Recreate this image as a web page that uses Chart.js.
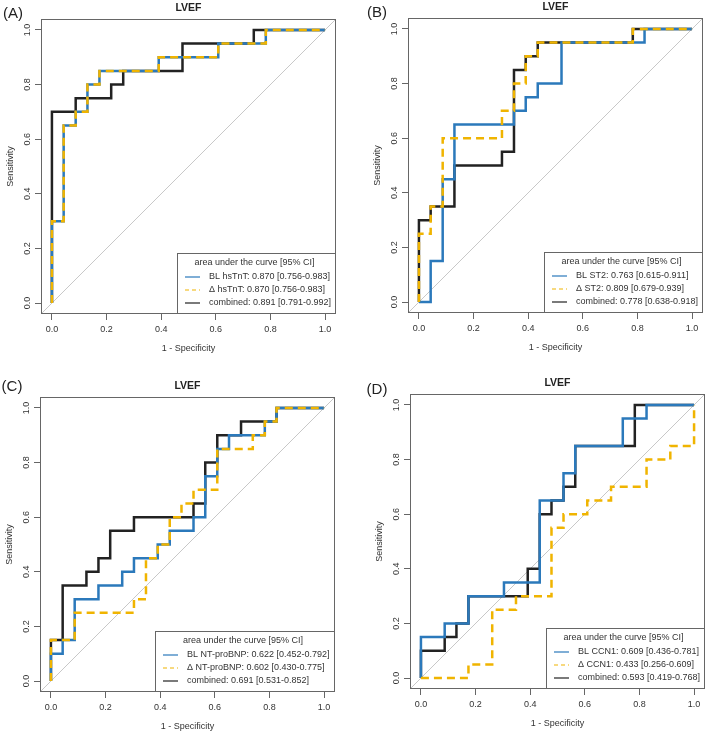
<!DOCTYPE html>
<html>
<head>
<meta charset="utf-8">
<script src="https://cdn.jsdelivr.net/npm/chart.js@4.4.0/dist/chart.umd.min.js"></script>
<style>
  html, body { margin: 0; padding: 0; width: 709px; height: 732px; overflow: hidden; background: #fff; }
  body { position: relative; }
  .panel { position: absolute; width: 370px; height: 366px; }
</style>
</head>
<body>
<div class="panel" id="pA"><canvas id="cA" width="370" height="366"></canvas></div>
<div class="panel" id="pB"><canvas id="cB" width="370" height="366"></canvas></div>
<div class="panel" id="pC"><canvas id="cC" width="370" height="366"></canvas></div>
<div class="panel" id="pD"><canvas id="cD" width="370" height="366"></canvas></div>

<script>
// ---- data (1 - specificity, sensitivity) ----
const tickValues = [0, 0.2, 0.4, 0.6, 0.8, 1.0];
const tickLabels = ['0.0', '0.2', '0.4', '0.6', '0.8', '1.0'];

// (A) hsTnT
const aBlueX = [0, 0, 0.043, 0.087, 0.13, 0.174, 0.391, 0.609, 0.783, 1];
const aBlueY = [0, 0.3, 0.65, 0.7, 0.8, 0.85, 0.9, 0.95, 1, 1];
const aYellowX = [0, 0, 0.043, 0.087, 0.13, 0.174, 0.391, 0.609, 0.783, 1];
const aYellowY = [0, 0.3, 0.65, 0.7, 0.8, 0.85, 0.9, 0.95, 1, 1];
const aBlackX = [0, 0, 0.087, 0.217, 0.261, 0.478, 0.739, 1];
const aBlackY = [0, 0.7, 0.75, 0.8, 0.85, 0.95, 1, 1];
const aLabels = ['BL hsTnT: 0.870 [0.756-0.983]', 'Δ hsTnT: 0.870 [0.756-0.983]', 'combined: 0.891 [0.791-0.992]'];

// (B) ST2
const bBlueX = [0, 0.043, 0.087, 0.13, 0.348, 0.391, 0.435, 0.522, 0.826, 1];
const bBlueY = [0, 0.15, 0.45, 0.65, 0.7, 0.75, 0.8, 0.95, 1, 1];
const bYellowX = [0, 0, 0.043, 0.087, 0.304, 0.348, 0.391, 0.435, 0.783, 1];
const bYellowY = [0, 0.25, 0.35, 0.6, 0.7, 0.8, 0.9, 0.95, 1, 1];
const bBlackX = [0, 0, 0.043, 0.13, 0.304, 0.348, 0.391, 0.435, 0.783, 1];
const bBlackY = [0, 0.3, 0.35, 0.5, 0.55, 0.85, 0.9, 0.95, 1, 1];
const bLabels = ['BL ST2: 0.763 [0.615-0.911]', 'Δ ST2: 0.809 [0.679-0.939]', 'combined: 0.778 [0.638-0.918]'];

// (C) NT-proBNP
const cBlueX = [0, 0, 0.043, 0.087, 0.174, 0.261, 0.304, 0.391, 0.435, 0.522, 0.565, 0.609, 0.652, 0.783, 0.826, 1];
const cBlueY = [0, 0.1, 0.15, 0.3, 0.35, 0.4, 0.45, 0.5, 0.55, 0.6, 0.75, 0.85, 0.9, 0.95, 1, 1];
const cYellowX = [0, 0, 0.087, 0.304, 0.348, 0.391, 0.435, 0.478, 0.522, 0.609, 0.739, 0.783, 0.826, 1];
const cYellowY = [0, 0.15, 0.25, 0.3, 0.45, 0.5, 0.6, 0.65, 0.7, 0.85, 0.9, 0.95, 1, 1];
const cBlackX = [0, 0, 0.043, 0.13, 0.174, 0.217, 0.304, 0.522, 0.565, 0.609, 0.696, 0.826, 1];
const cBlackY = [0, 0.15, 0.35, 0.4, 0.45, 0.55, 0.6, 0.65, 0.8, 0.9, 0.95, 1, 1];
const cLabels = ['BL NT-proBNP: 0.622 [0.452-0.792]', 'Δ NT-proBNP: 0.602 [0.430-0.775]', 'combined: 0.691 [0.531-0.852]'];

// (D) CCN1
const dBlueX = [0, 0, 0.087, 0.174, 0.304, 0.435, 0.522, 0.565, 0.739, 0.826, 1];
const dBlueY = [0, 0.15, 0.2, 0.3, 0.35, 0.65, 0.75, 0.85, 0.95, 1, 1];
const dYellowX = [0, 0.174, 0.261, 0.348, 0.478, 0.522, 0.609, 0.696, 0.826, 0.913, 1];
const dYellowY = [0, 0.05, 0.25, 0.3, 0.55, 0.6, 0.65, 0.7, 0.8, 0.85, 1];
const dBlackX = [0, 0, 0.087, 0.13, 0.174, 0.391, 0.435, 0.478, 0.522, 0.565, 0.783, 1];
const dBlackY = [0, 0.1, 0.15, 0.2, 0.3, 0.4, 0.6, 0.65, 0.7, 0.85, 1, 1];
const dLabels = ['BL CCN1: 0.609 [0.436-0.781]', 'Δ CCN1: 0.433 [0.256-0.609]', 'combined: 0.593 [0.419-0.768]'];

// ---- styling ----
const BLUE = '#2b79bb';
const YELLOW = '#f0b400';
const BLACK = '#222222';
const FRAME = '#666666';
const FONT = "'Liberation Sans', Arial, Helvetica, sans-serif";
const PAD_L = 16;   // spare room left of the y axis so the panel letter is not clipped

const panels = [
    { id: 'A', box: [41, 19], letterPos: [13, 14], titleY: 8, labels: aLabels,
      blue: [aBlueX, aBlueY], yellow: [aYellowX, aYellowY], black: [aBlackX, aBlackY] },
    { id: 'B', box: [408, 18], letterPos: [377, 13], titleY: 7, labels: bLabels,
      blue: [bBlueX, bBlueY], yellow: [bYellowX, bYellowY], black: [bBlackX, bBlackY] },
    { id: 'C', box: [40, 397], letterPos: [12, 387], titleY: 386, labels: cLabels,
      blue: [cBlueX, cBlueY], yellow: [cYellowX, cYellowY], black: [cBlackX, cBlackY] },
    { id: 'D', box: [410, 394], letterPos: [377, 390], titleY: 383, labels: dLabels,
      blue: [dBlueX, dBlueY], yellow: [dYellowX, dYellowY], black: [dBlackX, dBlackY] }
];

const toPoints = (xs, ys) => xs.map((x, i) => ({ x: x, y: ys[i] }));

// frame, title, panel letter and the AUC legend
const decorPlugin = {
    id: 'decor',
    afterDraw(chart, args, opts) {
        const ctx = chart.ctx;
        const area = chart.chartArea;
        const p = opts.panel;
        const offX = p.box[0] - 41 - PAD_L;
        const offY = p.box[1] - 19;
        ctx.save();

        // plot frame
        ctx.strokeStyle = FRAME;
        ctx.lineWidth = 1;
        ctx.strokeRect(area.left + 0.5, area.top + 0.5, area.right - area.left - 1, area.bottom - area.top - 1);

        // title
        ctx.fillStyle = '#222';
        ctx.font = 'bold 10.5px ' + FONT;
        ctx.textAlign = 'center';
        ctx.textBaseline = 'middle';
        ctx.fillText('LVEF', (area.left + area.right) / 2, p.titleY - offY);

        // panel letter
        ctx.font = '15px ' + FONT;
        ctx.fillText('(' + p.id + ')', p.letterPos[0] - offX, p.letterPos[1] - offY);

        // legend
        ctx.font = '9px ' + FONT;
        const order = [1, 0, 2];
        let textW = 0;
        order.forEach(i => { textW = Math.max(textW, ctx.measureText(chart.data.datasets[i].label).width); });
        const w = Math.round(32 + textW + 5);
        const h = 61;
        const lx = area.right - w;
        const ly = area.bottom - h;
        ctx.fillStyle = '#fff';
        ctx.fillRect(lx, ly, w, h);
        ctx.strokeStyle = FRAME;
        ctx.strokeRect(lx + 0.5, ly + 0.5, w - 1, h - 1);

        ctx.fillStyle = '#333';
        ctx.textAlign = 'center';
        ctx.fillText('area under the curve [95% CI]', lx + w / 2 - 2, ly + 10);

        ctx.textAlign = 'left';
        order.forEach((i, row) => {
            const ds = chart.data.datasets[i];
            const y = ly + 24 + row * 13;
            ctx.beginPath();
            ctx.strokeStyle = ds.borderColor;
            ctx.lineWidth = 1.2;
            ctx.setLineDash(ds.borderDash ? [4, 3] : []);
            ctx.moveTo(lx + 8, y);
            ctx.lineTo(lx + 23, y);
            ctx.stroke();
            ctx.setLineDash([]);
            ctx.fillStyle = '#333';
            ctx.fillText(ds.label, lx + 32, y);
        });
        ctx.restore();
    }
};

function axisOptions(isX) {
    return {
        type: 'linear',
        min: -0.04,
        max: 1.04,
        afterBuildTicks: scale => { scale.ticks = tickValues.map(v => ({ value: v })); },
        afterFit: scale => {
            if (isX) scale.height = 52;
            else scale.width = 41;
        },
        border: { display: false },
        grid: {
            display: true,
            drawOnChartArea: false,
            drawTicks: true,
            tickLength: 6,
            tickColor: FRAME,
            tickWidth: 1
        },
        ticks: {
            autoSkip: false,
            color: '#333',
            font: { family: FONT, size: 9 },
            padding: isX ? 4 : 1,
            minRotation: isX ? 0 : 90,
            maxRotation: isX ? 0 : 90,
            crossAlign: isX ? 'near' : 'center',
            callback: value => tickLabels[tickValues.indexOf(value)]
        },
        title: {
            display: true,
            text: isX ? '1 - Specificity' : 'Sensitivity',
            color: '#333',
            font: { family: FONT, size: 9 },
            padding: isX ? { top: 0, bottom: 12 } : { top: 5, bottom: 0 }
        }
    };
}

function makePanel(p) {
    const wrap = document.getElementById('p' + p.id);
    wrap.style.left = (p.box[0] - 41 - PAD_L) + 'px';
    wrap.style.top = (p.box[1] - 19) + 'px';
    const canvas = document.getElementById('c' + p.id);

    const line = (label, pts, color, dash) => ({
        label: label,
        data: pts,
        borderColor: color,
        borderWidth: 2.5,
        borderDash: dash,
        stepped: true,
        pointRadius: 0,
        fill: false
    });

    new Chart(canvas, {
        type: 'line',
        data: {
            datasets: [
                line(p.labels[1], toPoints(p.yellow[0], p.yellow[1]), YELLOW, [8, 5]),
                line(p.labels[0], toPoints(p.blue[0], p.blue[1]), BLUE, undefined),
                line(p.labels[2], toPoints(p.black[0], p.black[1]), BLACK, undefined),
                {
                    label: 'chance',
                    data: [{ x: -0.04, y: -0.04 }, { x: 1.04, y: 1.04 }],
                    borderColor: '#c8c8c8',
                    borderWidth: 1,
                    pointRadius: 0,
                    fill: false
                }
            ]
        },
        options: {
            responsive: false,
            animation: false,
            events: [],
            layout: { padding: { left: PAD_L, top: 19, right: 18, bottom: 0 } },
            scales: {
                x: axisOptions(true),
                y: axisOptions(false)
            },
            plugins: {
                legend: { display: false },
                tooltip: { enabled: false },
                decor: { panel: p }
            }
        },
        plugins: [decorPlugin]
    });
}

panels.forEach(makePanel);
</script>
</body>
</html>
